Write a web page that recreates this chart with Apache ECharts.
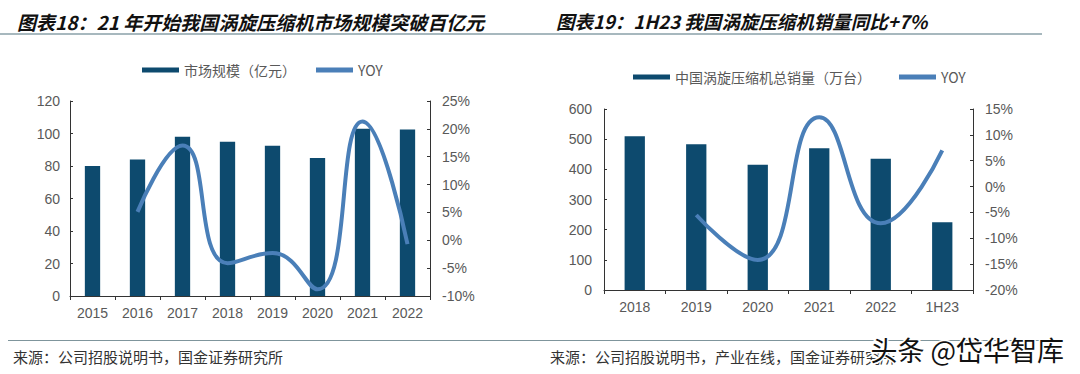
<!DOCTYPE html>
<html>
<head>
<meta charset="utf-8">
<script src="https://cdn.jsdelivr.net/npm/echarts@6/dist/echarts.min.js"></script>
<style>
html,body{margin:0;padding:0;background:#fff;}
#main{width:1080px;height:374px;}
</style>
</head>
<body>
<div id="main"></div>
<script>
// Chart 18 data
var cats1 = ['2015','2016','2017','2018','2019','2020','2021','2022'];
var market1 = [80, 84, 98, 95, 92.5, 85, 103, 102.5];
var yoy1 = [null, 5.1, 17.0, -4.1, -2.3, -8.8, 21.3, -0.7];
var leftTicks1 = {min: 0, max: 120, interval: 20};
var rightTicks1 = {min: -10, max: 25, interval: 5};

// Chart 19 data
var cats2 = ['2018','2019','2020','2021','2022','1H23'];
var sales2 = [510, 483, 415, 470, 435, 225];
var yoy2 = [null, -5.5, -14.2, 13.4, -7.1, 7.0];
var leftTicks2 = {min: 0, max: 600, interval: 100};
var rightTicks2 = {min: -20, max: 15, interval: 5};

var title1 = '图表18：21 年开始我国涡旋压缩机市场规模突破百亿元';
var title2 = '图表19：1H23 我国涡旋压缩机销量同比+7%';
var source1 = '来源：公司招股说明书，国金证券研究所';
var source2 = '来源：公司招股说明书，产业在线，国金证券研究所';
var barName1 = '市场规模（亿元）';
var barName2 = '中国涡旋压缩机总销量（万台）';
var lineName = 'YOY';
var watermark = '头条 @岱华智库';

var BAR = '#0d4a6e', LINE = '#4a7fb8', AXIS = '#333333', LABEL = '#595959';
var FONT = 'Liberation Sans, Arial, sans-serif';
var CJK = 'Noto Sans CJK SC, sans-serif';

function xAx(gi, cats, margin) {
  return {
    type: 'category', gridIndex: gi, data: cats, boundaryGap: true,
    axisLine: {lineStyle: {color: AXIS, width: 1}},
    axisTick: {show: true, inside: false, length: 4, lineStyle: {color: AXIS}},
    axisLabel: {color: LABEL, fontSize: 14, fontFamily: FONT, margin: margin},
    splitLine: {show: false}
  };
}
function yAx(gi, t, pos, pct, margin) {
  return {
    type: 'value', gridIndex: gi, position: pos, min: t.min, max: t.max, interval: t.interval,
    axisLine: {show: true, lineStyle: {color: AXIS, width: 1}},
    axisTick: {show: true, inside: true, length: 3, lineStyle: {color: AXIS}},
    axisLabel: {color: LABEL, fontSize: 14, fontFamily: FONT, margin: margin,
      formatter: pct ? '{value}%' : '{value}'},
    splitLine: {show: false}
  };
}

var chart = echarts.init(document.getElementById('main'), null, {renderer: 'svg'});
chart.setOption({
  animation: false,
  backgroundColor: '#ffffff',
  title: [
    {text: title1, left: 12, top: 7, textStyle: {fontSize: 19, fontWeight: 'bold', fontStyle: 'italic', color: '#111', fontFamily: CJK}},
    {text: title2, left: 551, top: 7, textStyle: {fontSize: 18.5, fontWeight: 'bold', fontStyle: 'italic', color: '#111', fontFamily: CJK}}
  ],
  legend: [
    {left: 137, top: 58, itemWidth: 37, itemHeight: 5, itemGap: 20,
     textStyle: {fontSize: 14, color: LABEL, fontFamily: CJK},
     data: [{name: barName1, icon: 'rect'}, {name: lineName, icon: 'rect'}]},
    {left: 628, top: 65, itemWidth: 37, itemHeight: 5, itemGap: 28,
     textStyle: {fontSize: 14, color: LABEL, fontFamily: CJK},
     data: [{name: barName2, icon: 'rect'}, {name: lineName, icon: 'rect'}]}
  ],
  grid: [
    {left: 70, top: 101, width: 360, height: 195},
    {left: 604, top: 109, width: 369, height: 181}
  ],
  xAxis: [xAx(0, cats1, 10), xAx(1, cats2, 10)],
  yAxis: [
    yAx(0, leftTicks1, 'left', false, 10),
    yAx(0, rightTicks1, 'right', true, 12),
    yAx(1, leftTicks2, 'left', false, 12),
    yAx(1, rightTicks2, 'right', true, 12)
  ],
  series: [
    {name: barName1, type: 'bar', xAxisIndex: 0, yAxisIndex: 0, data: market1,
     barWidth: '34%', itemStyle: {color: BAR}},
    {name: lineName, type: 'line', xAxisIndex: 0, yAxisIndex: 1, data: yoy1,
     smooth: 0.5, symbol: 'none', lineStyle: {color: LINE, width: 4}, itemStyle: {color: LINE}},
    {name: barName2, type: 'bar', xAxisIndex: 1, yAxisIndex: 2, data: sales2,
     barWidth: '33%', itemStyle: {color: BAR}},
    {name: lineName, type: 'line', xAxisIndex: 1, yAxisIndex: 3, data: yoy2,
     smooth: 0.5, symbol: 'none', lineStyle: {color: LINE, width: 4}, itemStyle: {color: LINE}}
  ],
  graphic: [
    {type: 'line', shape: {x1: 0, y1: 34, x2: 1042, y2: 34}, style: {stroke: '#a7b8be', lineWidth: 2}},
    {type: 'line', shape: {x1: 8, y1: 340.5, x2: 1042, y2: 340.5}, style: {stroke: '#7f959c', lineWidth: 1}},
    {type: 'text', left: 13, top: 349, style: {text: source1, fontSize: 15, fill: '#333', fontFamily: CJK}},
    {type: 'text', left: 550, top: 349, style: {text: source2, fontSize: 15, fill: '#333', fontFamily: CJK}},
    {type: 'text', left: 869, top: 334, z: 100, style: {text: watermark, fontSize: 27, fill: '#111', stroke: '#ffffff', lineWidth: 3, fontFamily: CJK}}
  ]
});
</script>
</body>
</html>
